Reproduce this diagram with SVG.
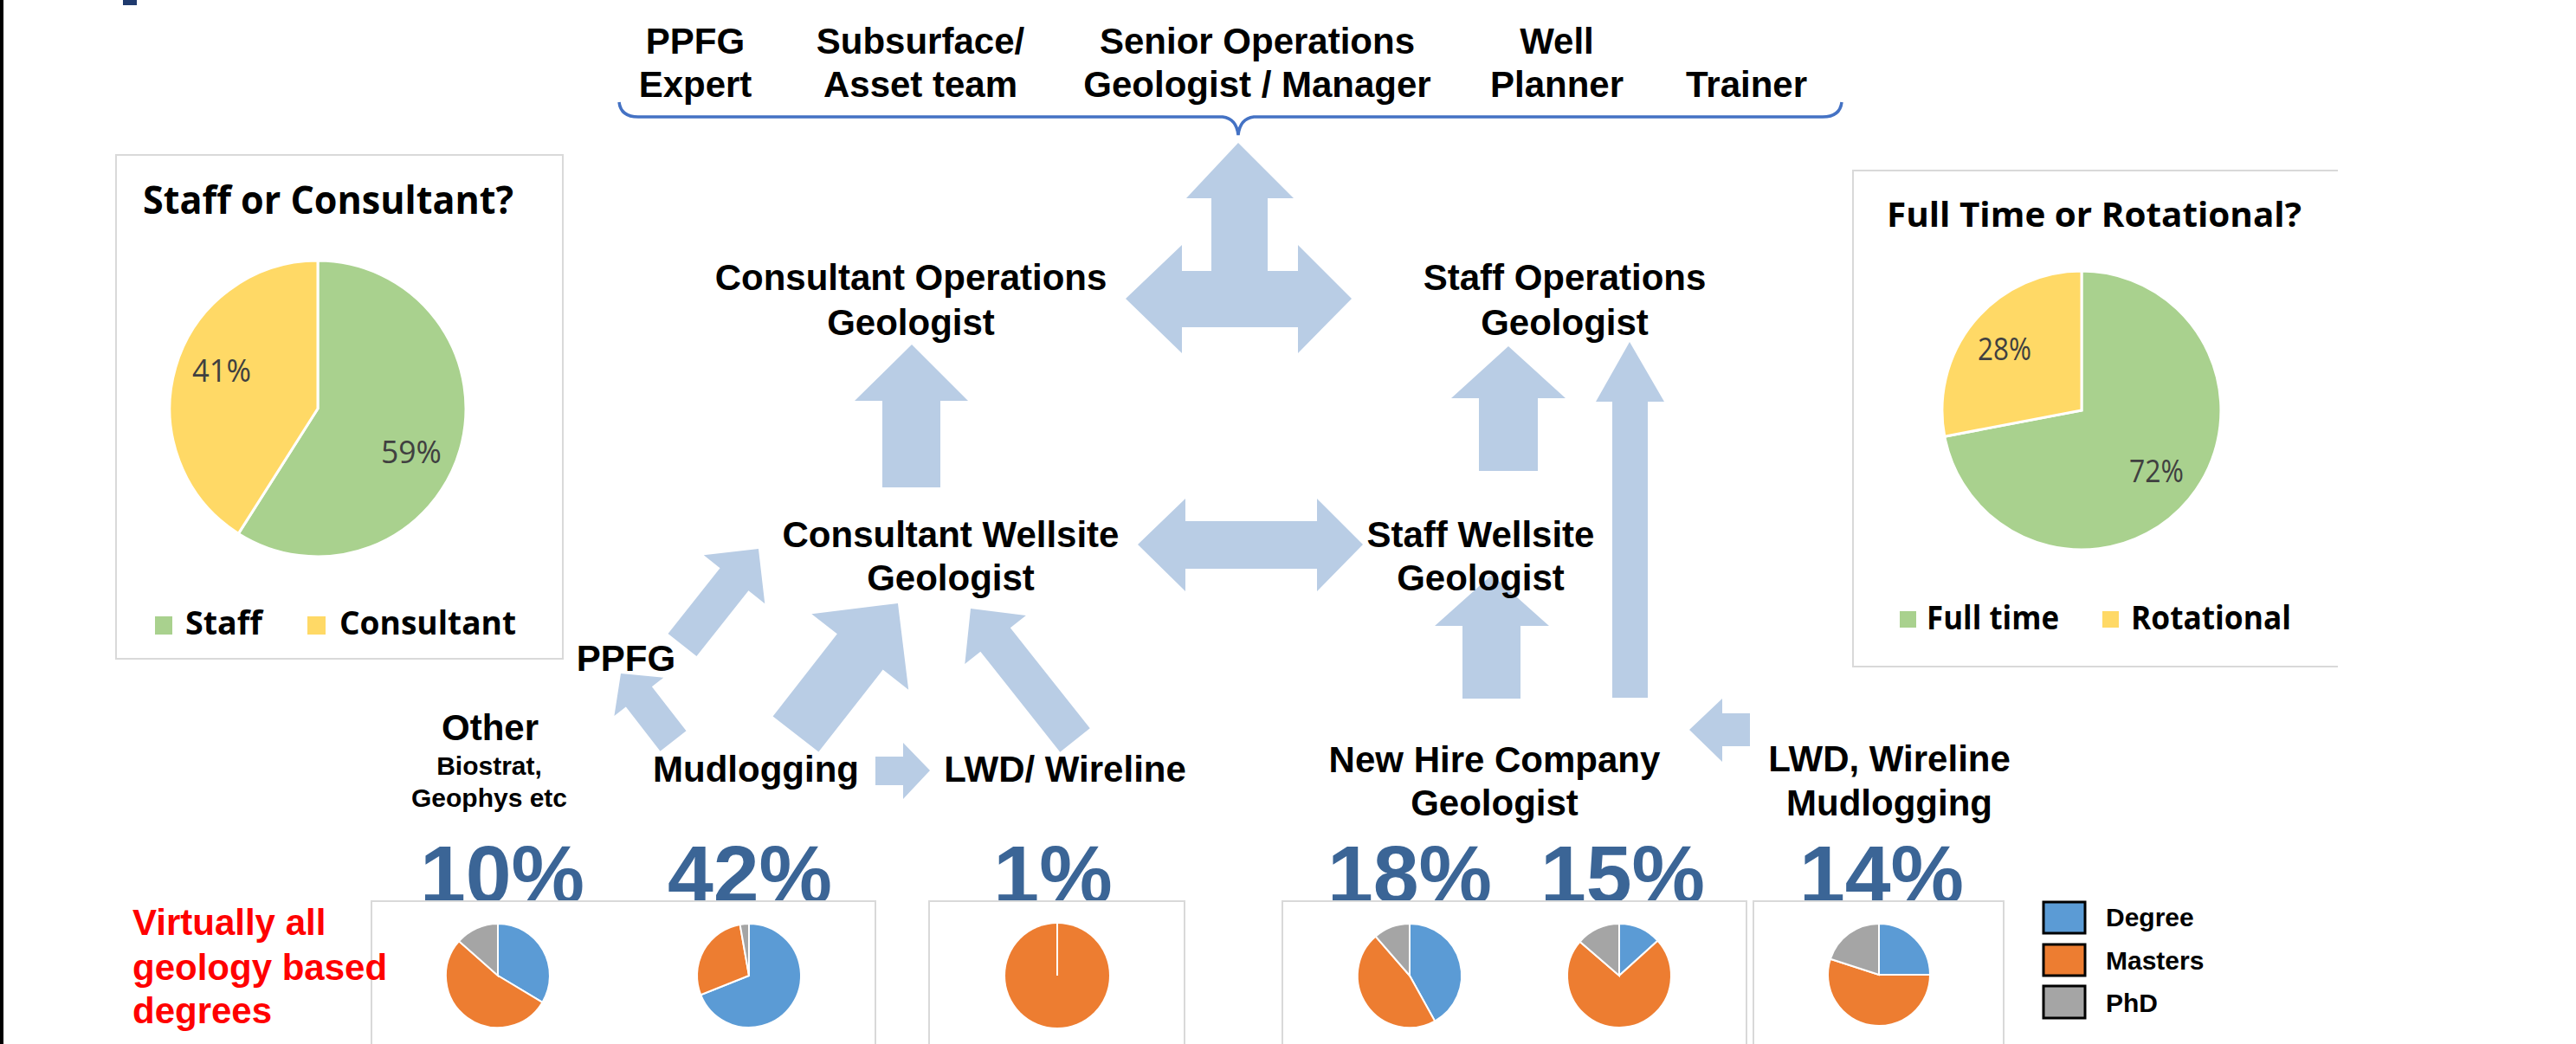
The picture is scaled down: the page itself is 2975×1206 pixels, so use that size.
<svg xmlns="http://www.w3.org/2000/svg" width="2975" height="1206" viewBox="0 0 2975 1206">
  <defs>
    <style>
      .arrow { fill: #B9CDE5; }
      .lbl { font-family: "Liberation Sans", Arial, sans-serif; font-weight: bold; font-size: 42px; fill: #000; text-anchor: middle; }
      .small { font-size: 30px; }
      .pct { font-family: "Liberation Sans", Arial, sans-serif; font-weight: bold; font-size: 95px; fill: #3B6596; text-anchor: middle; }
      .frame { fill: #FFFFFF; stroke: #D9D9D9; stroke-width: 2; }
      .ctitle { font-family: "Open Sans", "Noto Sans", sans-serif; font-weight: 700; fill: #000; }
      .cleg { font-family: "Open Sans", "Noto Sans", sans-serif; font-weight: 700; font-size: 38px; fill: #000; }
      .cval { font-family: "Open Sans", "Noto Sans", sans-serif; font-weight: 500; font-size: 37px; fill: #404040; }
      .slice { stroke: #FFFFFF; stroke-width: 3; }
      .mini { stroke: #FFFFFF; stroke-width: 2; }
      .green { fill: #A9D18E; }
      .yellow { fill: #FFD966; }
      .blue { fill: #5B9BD5; }
      .orange { fill: #ED7D31; }
      .grey { fill: #A5A5A5; }
      .key { stroke: #000; stroke-width: 3; }
      .keytxt { font-family: "Liberation Sans", Arial, sans-serif; font-weight: bold; font-size: 30px; fill: #000; }
      .note { font-family: "Liberation Sans", Arial, sans-serif; font-weight: bold; font-size: 42px; fill: #FF0000; }
    </style>
  </defs>

  <rect x="0" y="0" width="2975" height="1206" fill="#FFFFFF"/>
  <!-- slide edge and title marker -->
  <rect x="0" y="0" width="4" height="1206" fill="#000000"/>
  <rect x="142" y="0" width="16" height="6" fill="#1F3A6E"/>

  <!-- career destinations -->
  <g id="destinations">
    <text class="lbl" x="803" y="62">PPFG</text>
    <text class="lbl" x="803" y="112">Expert</text>
    <text class="lbl" x="1063" y="62">Subsurface/</text>
    <text class="lbl" x="1063" y="112">Asset team</text>
    <text class="lbl" x="1452" y="62">Senior Operations</text>
    <text class="lbl" x="1452" y="112">Geologist / Manager</text>
    <text class="lbl" x="1798" y="62">Well</text>
    <text class="lbl" x="1798" y="112">Planner</text>
    <text class="lbl" x="2017" y="112">Trainer</text>
    <path d="M715,118 Q717,135 737,135 L1412,135 Q1428,137 1430,156 Q1432,137 1448,135 L2105,135 Q2125,135 2127,118" fill="none" stroke="#4472C4" stroke-width="3.5"/>
  </g>

  <!-- connectors -->
  <g id="connectors">
    <!-- ops geologists to destinations, and between each other -->
    <polygon class="arrow" points="1300,345 1365,283 1365,313 1399,313 1399,229 1370,229 1430,165 1494,229 1464,229 1464,313 1499,313 1499,283 1561,345 1499,408 1499,378 1365,378 1365,408"/>
    <!-- consultant wellsite to consultant ops -->
    <polygon class="arrow" points="1019,563 1019,463 987,463 1053,398 1118,463 1086,463 1086,563"/>
    <!-- staff wellsite to staff ops -->
    <polygon class="arrow" points="1708,544 1708,460 1676,460 1742,400 1808,460 1776,460 1776,544"/>
    <!-- new hire straight to staff ops -->
    <polygon class="arrow" points="1862,806 1862,464 1843,464 1882,395 1922,464 1903,464 1903,806"/>
    <!-- new hire to staff wellsite -->
    <polygon class="arrow" points="1689,807 1689,723 1657,723 1723,664 1789,723 1756,723 1756,807"/>
    <!-- LWD/Wireline/Mudlogging to new hire -->
    <polygon class="arrow" points="2021,824 1989,824 1989,807 1951,843 1989,880 1989,862 2021,862"/>
    <!-- consultant wellsite <-> staff wellsite -->
    <polygon class="arrow" points="1314,629 1369,576 1369,602 1521,602 1521,576 1574,629 1521,683 1521,657 1369,657 1369,683"/>
    <!-- PPFG to consultant wellsite -->
    <path class="arrow" transform="translate(788,745) rotate(-51.6)" d="M0,-21 L96.6,-21 L96.6,-45 L141.6,0 L96.6,45 L96.6,21 L0,21 Z"/>
    <!-- mudlogging to PPFG -->
    <path class="arrow" transform="translate(777.5,856) rotate(-127.8)" d="M0,-19 L64.7,-19 L64.7,-36 L98.7,0 L64.7,36 L64.7,19 L0,19 Z"/>
    <!-- mudlogging to consultant wellsite -->
    <path class="arrow" transform="translate(919,848) rotate(-52)" d="M0,-33.5 L120.6,-33.5 L120.6,-71 L191.6,0 L120.6,71 L120.6,33.5 L0,33.5 Z"/>
    <!-- LWD/Wireline to consultant wellsite -->
    <path class="arrow" transform="translate(1241.5,855) rotate(-128.4)" d="M0,-22 L148,-22 L148,-45 L194,0 L148,45 L148,22 L0,22 Z"/>
    <!-- mudlogging to LWD/Wireline -->
    <polygon class="arrow" points="1011,874 1043,874 1043,858 1074,890 1043,923 1043,907 1011,907"/>
  </g>

  <!-- role nodes -->
  <g id="consultant-ops">
    <text class="lbl" x="1052" y="335">Consultant Operations</text>
    <text class="lbl" x="1052" y="387">Geologist</text>
  </g>
  <g id="staff-ops">
    <text class="lbl" x="1807" y="335">Staff Operations</text>
    <text class="lbl" x="1807" y="387">Geologist</text>
  </g>
  <g id="consultant-wellsite">
    <text class="lbl" x="1098" y="632">Consultant Wellsite</text>
    <text class="lbl" x="1098" y="682">Geologist</text>
  </g>
  <g id="staff-wellsite">
    <text class="lbl" x="1710" y="632">Staff Wellsite</text>
    <text class="lbl" x="1710" y="682">Geologist</text>
  </g>
  <g id="ppfg">
    <text class="lbl" x="723" y="775">PPFG</text>
  </g>
  <g id="other">
    <text class="lbl" x="566" y="855">Other</text>
    <text class="lbl small" x="565" y="895">Biostrat,</text>
    <text class="lbl small" x="565" y="932">Geophys etc</text>
  </g>
  <g id="mudlogging">
    <text class="lbl" x="873" y="903">Mudlogging</text>
  </g>
  <g id="lwd-wireline">
    <text class="lbl" x="1230" y="903">LWD/ Wireline</text>
  </g>
  <g id="new-hire">
    <text class="lbl" x="1726" y="892">New Hire Company</text>
    <text class="lbl" x="1726" y="942">Geologist</text>
  </g>
  <g id="service-entry">
    <text class="lbl" x="2182" y="891">LWD, Wireline</text>
    <text class="lbl" x="2182" y="942">Mudlogging</text>
  </g>

  <!-- entry shares -->
  <g id="shares">
    <text class="pct" x="580" y="1043">10%</text>
    <text class="pct" x="866" y="1043">42%</text>
    <text class="pct" x="1216" y="1043">1%</text>
    <text class="pct" x="1628" y="1043">18%</text>
    <text class="pct" x="1874" y="1043">15%</text>
    <text class="pct" x="2173" y="1043">14%</text>
  </g>

  <!-- staff or consultant chart -->
  <g id="chart-staff">
    <rect class="frame" x="134" y="179" width="516" height="582"/>
    <text class="ctitle" x="165" y="247" font-size="44" textLength="428" lengthAdjust="spacingAndGlyphs">Staff or Consultant?</text>
    <path class="slice green" d="M367,472 L367,301 A171,171 0 1 1 275.4,616.4 Z"/>
    <path class="slice yellow" d="M367,472 L275.4,616.4 A171,171 0 0 1 367,301 Z"/>
    <text class="cval" x="222" y="441" textLength="68" lengthAdjust="spacingAndGlyphs">41%</text>
    <text class="cval" x="440" y="535" textLength="70" lengthAdjust="spacingAndGlyphs">59%</text>
    <rect class="green" x="179" y="712" width="20" height="21"/>
    <text class="cleg" x="214" y="733" textLength="89" lengthAdjust="spacingAndGlyphs">Staff</text>
    <rect class="yellow" x="355" y="712" width="21" height="21"/>
    <text class="cleg" x="392" y="733" textLength="204" lengthAdjust="spacingAndGlyphs">Consultant</text>
  </g>

  <!-- full time or rotational chart -->
  <g id="chart-rotation">
    <rect x="2140" y="197" width="560" height="573" fill="#FFFFFF"/>
    <path d="M2700,197 L2140,197 L2140,770 L2700,770" fill="none" stroke="#D9D9D9" stroke-width="2"/>
    <text class="ctitle" x="2179" y="262" font-size="40" textLength="479" lengthAdjust="spacingAndGlyphs">Full Time or Rotational?</text>
    <path class="slice green" d="M2404,474 L2404,313 A161,161 0 1 1 2245.8,504.2 Z"/>
    <path class="slice yellow" d="M2404,474 L2245.8,504.2 A161,161 0 0 1 2404,313 Z"/>
    <text class="cval" x="2284" y="416" textLength="62" lengthAdjust="spacingAndGlyphs">28%</text>
    <text class="cval" x="2459" y="557" textLength="63" lengthAdjust="spacingAndGlyphs">72%</text>
    <rect class="green" x="2194" y="706" width="19" height="19"/>
    <text class="cleg" x="2225" y="727" textLength="153" lengthAdjust="spacingAndGlyphs">Full time</text>
    <rect class="yellow" x="2428" y="706" width="19" height="19"/>
    <text class="cleg" x="2461" y="727" textLength="185" lengthAdjust="spacingAndGlyphs">Rotational</text>
  </g>

  <!-- degree breakdown per entry route -->
  <g id="degrees-other-mud">
    <rect class="frame" x="429" y="1041" width="582" height="175"/>
    <path class="mini blue" d="M575,1127 L575,1067 A60,60 0 0 1 626.4,1157.9 Z"/>
    <path class="mini orange" d="M575,1127 L626.4,1157.9 A60,60 0 1 1 530.1,1087.2 Z"/>
    <path class="mini grey" d="M575,1127 L530.1,1087.2 A60,60 0 0 1 575,1067 Z"/>
    <path class="mini blue" d="M865,1127 L865,1067 A60,60 0 1 1 809.3,1149.3 Z"/>
    <path class="mini orange" d="M865,1127 L809.3,1149.3 A60,60 0 0 1 854.6,1067.9 Z"/>
    <path class="mini grey" d="M865,1127 L854.6,1067.9 A60,60 0 0 1 865,1067 Z"/>
  </g>
  <g id="degrees-lwd">
    <rect class="frame" x="1073" y="1041" width="295" height="175"/>
    <circle class="orange" cx="1221" cy="1127" r="60"/>
    <line x1="1221" y1="1127" x2="1221" y2="1067" stroke="#FFFFFF" stroke-width="2"/>
  </g>
  <g id="degrees-newhire">
    <rect class="frame" x="1481" y="1041" width="536" height="175"/>
    <path class="mini blue" d="M1628,1127 L1628,1067 A60,60 0 0 1 1657.1,1179.5 Z"/>
    <path class="mini orange" d="M1628,1127 L1657.1,1179.5 A60,60 0 0 1 1588.6,1081.7 Z"/>
    <path class="mini grey" d="M1628,1127 L1588.6,1081.7 A60,60 0 0 1 1628,1067 Z"/>
    <path class="mini blue" d="M1870,1127 L1870,1067 A60,60 0 0 1 1914.4,1086.7 Z"/>
    <path class="mini orange" d="M1870,1127 L1914.4,1086.7 A60,60 0 1 1 1824.6,1087.8 Z"/>
    <path class="mini grey" d="M1870,1127 L1824.6,1087.8 A60,60 0 0 1 1870,1067 Z"/>
  </g>
  <g id="degrees-service">
    <rect class="frame" x="2025" y="1041" width="289" height="175"/>
    <path class="mini blue" d="M2170,1126 L2170,1067 A59,59 0 0 1 2229,1126 Z"/>
    <path class="mini orange" d="M2170,1126 L2229,1126 A59,59 0 1 1 2113.9,1107.8 Z"/>
    <path class="mini grey" d="M2170,1126 L2113.9,1107.8 A59,59 0 0 1 2170,1067 Z"/>
  </g>

  <!-- degree key -->
  <g id="degree-key">
    <rect class="key blue" x="2360" y="1042" width="48" height="36"/>
    <text class="keytxt" x="2432" y="1070">Degree</text>
    <rect class="key orange" x="2360" y="1091" width="48" height="36"/>
    <text class="keytxt" x="2432" y="1120">Masters</text>
    <rect class="key grey" x="2360" y="1139" width="48" height="37"/>
    <text class="keytxt" x="2432" y="1169">PhD</text>
  </g>

  <g id="degree-note">
    <text class="note" x="153" y="1080">Virtually all</text>
    <text class="note" x="153" y="1132">geology based</text>
    <text class="note" x="153" y="1182">degrees</text>
  </g>
</svg>
